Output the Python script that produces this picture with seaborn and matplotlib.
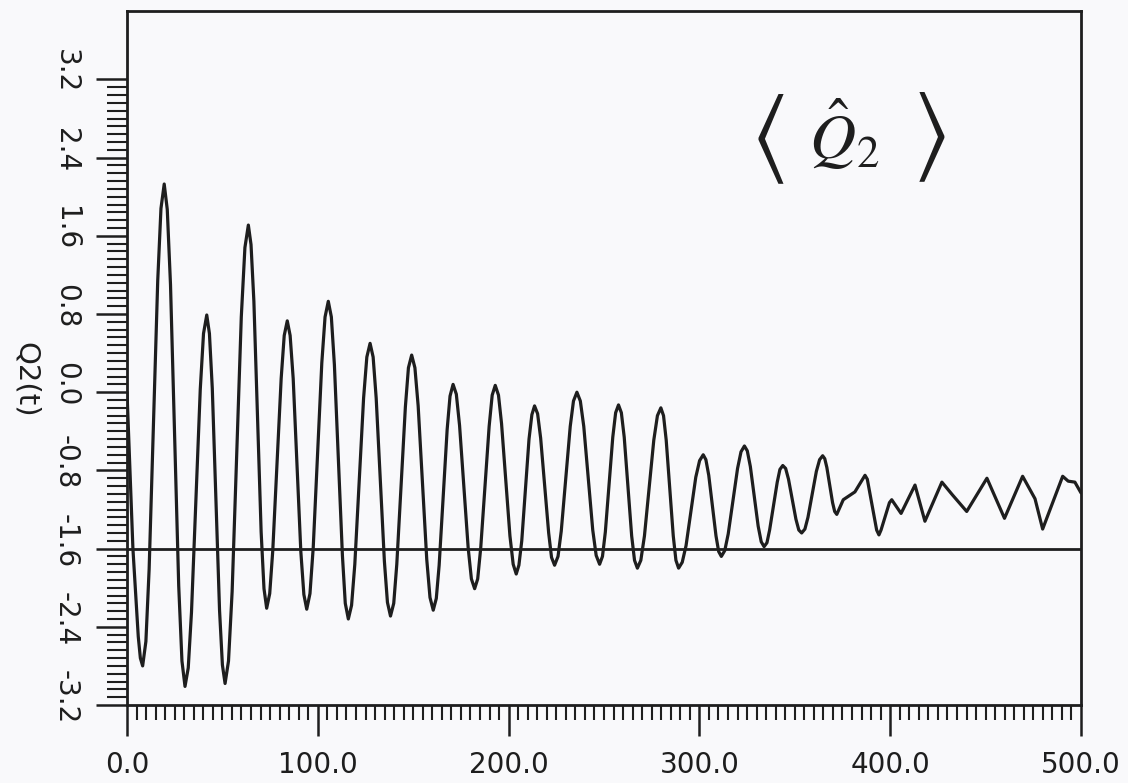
import numpy as np
import pandas as pd
import matplotlib
matplotlib.use("Agg")
import matplotlib.pyplot as plt
import matplotlib.transforms as mtransforms
from matplotlib.ticker import FixedLocator
import seaborn as sns

# ---- data (time, Q2(t)) ----
t_vals = [0.0, 3.1, 5.9, 7.0,
          8.2, 9.9, 11.6, 16.1, 17.8,
          19.5, 21.1, 22.8, 27.1, 28.8,
          30.4, 32.1, 33.8, 38.4, 40.1,
          41.8, 43.2, 44.7, 48.5, 50.0,
          51.4, 53.2, 55.1, 59.9, 61.8,
          63.6, 65.0, 66.5, 70.3, 71.8,
          73.2, 74.8, 76.4, 80.8, 82.4,
          84.0, 85.5, 87.1, 91.1, 92.7,
          94.2, 95.9, 97.6, 102.1, 103.8,
          105.5, 107.1, 108.7, 112.9, 114.4,
          116.0, 117.7, 119.4, 124.0, 125.7,
          127.4, 129.0, 130.6, 134.9, 136.5,
          138.1, 139.8, 141.4, 145.9, 147.5,
          149.2, 150.9, 152.6, 157.1, 158.8,
          160.5, 162.1, 163.6, 167.8, 169.3,
          170.9, 172.6, 174.3, 178.8, 180.5,
          182.2, 183.8, 185.4, 189.8, 191.4,
          193.0, 194.7, 196.3, 200.7, 202.4,
          204.0, 205.4, 206.9, 210.7, 212.2,
          213.6, 215.2, 216.8, 221.0, 222.5,
          224.1, 225.9, 227.6, 232.3, 234.0,
          235.8, 237.6, 239.4, 244.1, 245.9,
          247.7, 249.2, 250.7, 254.6, 256.1,
          257.6, 259.1, 260.6, 264.5, 266.0,
          267.5, 269.3, 271.2, 276.1, 278.0,
          279.8, 281.2, 282.6, 286.3, 287.7,
          289.1, 291.0, 293.0, 298.1, 300.1,
          302.0, 303.4, 304.9, 308.7, 310.1,
          311.5, 313.3, 315.1, 320.0, 321.8,
          323.6, 325.1, 326.7, 330.8, 332.4,
          333.9, 335.4, 336.8, 340.8, 342.2,
          343.7, 345.2, 346.7, 350.6, 352.1,
          353.6, 355.3, 356.9, 361.3, 363.0,
          364.6, 365.7, 366.8, 369.8, 370.9,
          372.0, 375.4, 381.5, 386.8, 388.0,
          392.9, 394.1, 395.2, 399.6, 400.8,
          405.7, 413.0, 418.2, 427.1, 432.6,
          440.1, 450.7, 459.9, 469.4, 475.9,
          479.9, 490.4, 493.3, 496.8, 500.0]
q_vals = [0.00, -1.60, -2.50, -2.72,
          -2.80, -2.55, -1.81, 1.14, 1.88,
          2.13, 1.87, 1.10, -1.98, -2.75,
          -3.01, -2.82, -2.25, 0.03, 0.60,
          0.79, 0.60, 0.04, -2.23, -2.79,
          -2.98, -2.75, -2.04, 0.77, 1.48,
          1.71, 1.51, 0.93, -1.43, -2.01,
          -2.21, -2.06, -1.62, 0.14, 0.58,
          0.73, 0.58, 0.14, -1.63, -2.07,
          -2.22, -2.06, -1.59, 0.30, 0.77,
          0.93, 0.77, 0.28, -1.67, -2.16,
          -2.32, -2.18, -1.76, -0.06, 0.36,
          0.50, 0.36, -0.06, -1.73, -2.15,
          -2.29, -2.16, -1.76, -0.15, 0.25,
          0.38, 0.25, -0.14, -1.71, -2.10,
          -2.23, -2.11, -1.77, -0.38, -0.04,
          0.08, -0.02, -0.34, -1.59, -1.91,
          -2.01, -1.91, -1.59, -0.35, -0.03,
          0.07, -0.03, -0.32, -1.47, -1.76,
          -1.86, -1.77, -1.52, -0.48, -0.23,
          -0.14, -0.22, -0.47, -1.44, -1.69,
          -1.77, -1.68, -1.42, -0.35, -0.09,
          0.00, -0.09, -0.35, -1.41, -1.67,
          -1.76, -1.68, -1.43, -0.46, -0.21,
          -0.13, -0.21, -0.46, -1.47, -1.72,
          -1.80, -1.72, -1.47, -0.49, -0.24,
          -0.16, -0.24, -0.49, -1.47, -1.72,
          -1.80, -1.74, -1.57, -0.87, -0.70,
          -0.64, -0.69, -0.85, -1.47, -1.63,
          -1.68, -1.62, -1.45, -0.78, -0.61,
          -0.55, -0.60, -0.76, -1.37, -1.53,
          -1.58, -1.54, -1.41, -0.92, -0.79,
          -0.75, -0.78, -0.89, -1.30, -1.41,
          -1.44, -1.40, -1.28, -0.81, -0.69,
          -0.65, -0.68, -0.77, -1.13, -1.22,
          -1.25, -1.10, -1.02, -0.85, -0.89,
          -1.41, -1.46, -1.41, -1.13, -1.10,
          -1.24, -0.95, -1.32, -0.92, -1.05,
          -1.22, -0.88, -1.29, -0.86, -1.09,
          -1.40, -0.86, -0.91, -0.92, -1.03]
reference_level = -1.6

y_ticks = [-3.2, -2.4, -1.6, -0.8, 0.0, 0.8, 1.6, 2.4, 3.2]
y_tick_labels = ["-3.2", "-2.4", "-1.6", "-0.8", "0.0", "0.8", "1.6", "2.4", "3.2"]
x_ticks = [0, 100, 200, 300, 400, 500]
x_tick_labels = ["0.0", "100.0", "200.0", "300.0", "400.0", "500.0"]
y_label = "Q2(t)"
note_left = r"$\langle$"
note_mid = r"$\hat{Q}_2$"
note_right = r"$\rangle$"

df = pd.DataFrame({"t": t_vals, "q": q_vals})

bg = "#f9f9fb"
ink = "#1e1e1e"

sns.set_theme(style="ticks")
plt.rcParams["font.family"] = ["DejaVu Sans"]
plt.rcParams["mathtext.fontset"] = "stix"

fig = plt.figure(figsize=(11.28, 7.83), dpi=100, facecolor=bg)
ax = fig.add_axes([0.11259, 0.09962, 0.84574, 0.88633], facecolor=bg)

sns.lineplot(data=df, x="t", y="q", ax=ax, color=ink, linewidth=2.3,
             estimator=None, sort=False)
ax.axhline(reference_level, color=ink, linewidth=2.0)

ax.set_xlim(0, 500)
ax.set_ylim(-3.2, 3.9)

ax.set_xticks(x_ticks)
ax.set_xticklabels(x_tick_labels, fontsize=20, color=ink)
ax.xaxis.set_minor_locator(FixedLocator(np.arange(0, 501, 5)))
ax.set_yticks(y_ticks)
ax.set_yticklabels(y_tick_labels, fontsize=20, color=ink, rotation=270,
                   va="center", ha="center")
ax.yaxis.set_minor_locator(FixedLocator(np.arange(-3.2, 3.2001, 0.08)))

ax.tick_params(axis="x", which="major", direction="out", length=22, width=1.8,
               color=ink, pad=11)
ax.tick_params(axis="x", which="minor", direction="out", length=11, width=1.5,
               color=ink)
ax.tick_params(axis="y", which="major", direction="out", length=22, width=1.8,
               color=ink, pad=22)
ax.tick_params(axis="y", which="minor", direction="out", length=14.5, width=1.5,
               color=ink)

# shift y tick labels slightly upward as in the plot
offset = mtransforms.ScaledTranslation(0, 0.08, fig.dpi_scale_trans)
for lab in ax.get_yticklabels():
    lab.set_transform(lab.get_transform() + offset)

for sp in ax.spines.values():
    sp.set_linewidth(2.0)
    sp.set_color(ink)

ax.set_xlabel("")
ax.set_ylabel(y_label, fontsize=21, color=ink, rotation=270, va="center")
ax.yaxis.set_label_coords(-0.106, 0.468)

# handwritten-style annotation
ax.text(0.671, 0.816, note_left, transform=ax.transAxes, fontsize=70,
        ha="center", va="center", color=ink)
ax.text(0.752, 0.823, note_mid, transform=ax.transAxes, fontsize=46,
        ha="center", va="center", color=ink)
ax.text(0.840, 0.818, note_right, transform=ax.transAxes, fontsize=70,
        ha="center", va="center", color=ink)

fig.savefig("out.png", dpi=100, facecolor=bg)
